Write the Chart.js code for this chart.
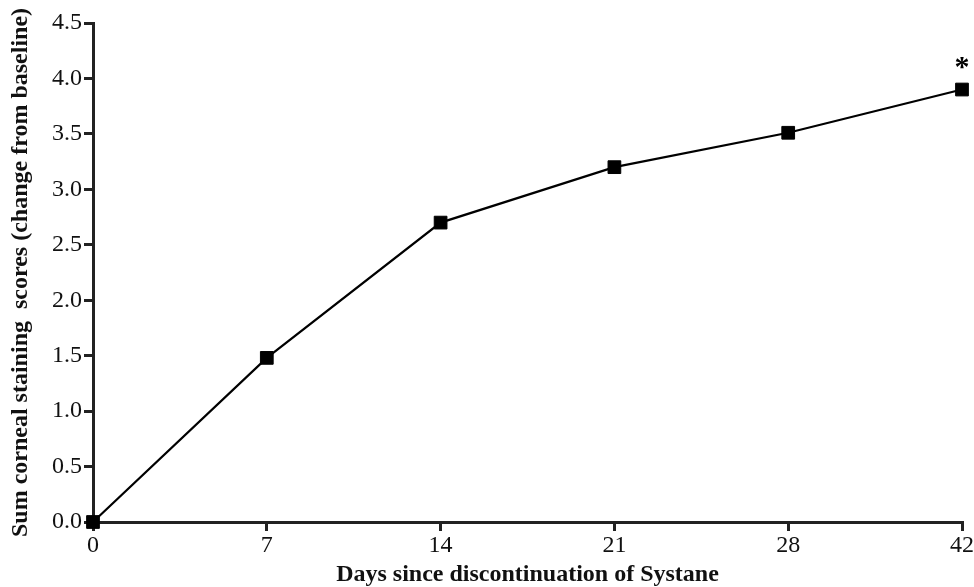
<!DOCTYPE html>
<html><head><meta charset="utf-8">
<script src="https://cdn.jsdelivr.net/npm/chart.js@4"></script>
<style>html,body{margin:0;padding:0;background:#fff}#wrap{width:974px;height:587px}</style>
</head><body><div id="wrap"><canvas id="c" width="974" height="587"></canvas></div>
<script>
const days = ['0', '7', '14', '21', '28', '42'];
const stainingChange = [0, 1.48, 2.70, 3.20, 3.51, 3.90];
const significance = ['', '', '', '', '', '*'];
const yTicks = [0, 0.5, 1, 1.5, 2, 2.5, 3, 3.5, 4, 4.5];
const xTitle = 'Days since discontinuation of Systane';
const yTitle = 'Sum corneal staining  scores (change from baseline)';

const FONT = '"Liberation Serif", "Times New Roman", serif';
const AXIS = '#222';

const sigPlugin = {
  id: 'sig',
  afterDatasetsDraw(chart) {
    const meta = chart.getDatasetMeta(0);
    const ctx = chart.ctx;
    ctx.save();
    ctx.font = 'bold 30px ' + FONT;
    ctx.textAlign = 'center';
    ctx.textBaseline = 'alphabetic';
    ctx.fillStyle = '#000';
    meta.data.forEach((pt, i) => {
      if (significance[i]) ctx.fillText(significance[i], pt.x, pt.y - 14);
    });
    ctx.restore();
  }
};

new Chart(document.getElementById('c'), {
  type: 'line',
  data: {
    labels: days,
    datasets: [{
      data: stainingChange,
      borderColor: '#000',
      borderWidth: 2.2,
      tension: 0,
      pointStyle: 'rect',
      pointRadius: 9,
      pointBackgroundColor: '#000',
      pointBorderColor: '#000',
      pointBorderWidth: 1,
      clip: false
    }]
  },
  options: {
    responsive: false,
    animation: false,
    devicePixelRatio: 1,
    layout: { padding: { top: 23, right: 12, bottom: 0, left: 0 } },
    plugins: { legend: { display: false }, tooltip: { enabled: false } },
    scales: {
      x: {
        type: 'category',
        offset: false,
        border: { display: true, color: AXIS, width: 3 },
        grid: { drawOnChartArea: false, drawTicks: true, tickLength: 9, color: AXIS, lineWidth: 3 },
        ticks: { color: '#111', font: { family: FONT, size: 24 }, padding: 0, maxRotation: 0, autoSkip: false },
        title: { display: true, text: xTitle, color: '#111', font: { family: FONT, size: 24, weight: 'bold' }, padding: { top: 0, bottom: -2 } },
        afterFit(s) { s.height = 65; }
      },
      y: {
        min: 0, max: 4.5,
        afterBuildTicks(s) { s.ticks = yTicks.map(v => ({ value: v })); },
        border: { display: true, color: AXIS, width: 3 },
        grid: { drawOnChartArea: false, drawTicks: true, tickLength: 9, color: AXIS, lineWidth: 3 },
        ticks: { color: '#111', font: { family: FONT, size: 24 }, padding: 2, callback: v => Number(v).toFixed(1) },
        title: { display: true, text: yTitle, color: '#111', font: { family: FONT, size: 24, weight: 'bold' }, padding: { top: 6, bottom: 0 } },
        afterFit(s) { s.width = 93; }
      }
    }
  },
  plugins: [sigPlugin]
});
</script>
</body></html>
